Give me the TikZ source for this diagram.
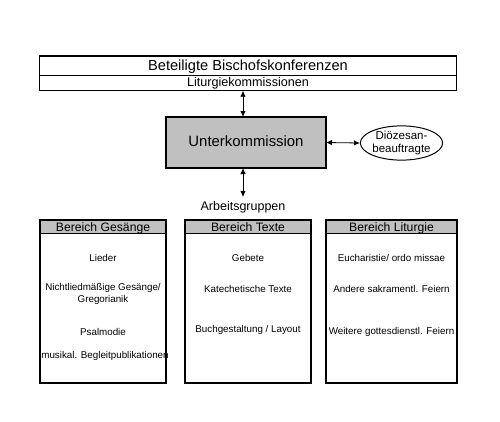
\documentclass[tikz,border=0pt]{standalone}
\usepackage{fontspec}
\setmainfont{Liberation Sans}
\usetikzlibrary{arrows.meta,shapes.geometric}
\definecolor{hdrgray}{HTML}{C0C0C0}
\tikzset{
  frame/.style={draw=black, line width=1.5pt},
  area/.style={inner sep=0pt, outer sep=0pt},
  arr/.style={{Latex[length=6pt,width=5.5pt]}-{Latex[length=6pt,width=5.5pt]}, line width=0.8pt},
  item/.style={inner sep=0pt, align=center, font=\fontsize{9.8}{11.5}\selectfont},
  hdr/.style={area, fill=hdrgray, font=\fontsize{12.2}{14}\selectfont, text height=10.8pt, text depth=0.8pt}
}
\begin{document}
\begin{tikzpicture}[x=1pt,y=-1pt]
\useasboundingbox[fill=white] (0,0) rectangle (500,421);
\coordinate (ax) at (243,0);
% top box
\node[area, minimum width=417.4pt, minimum height=19pt, text height=11.5pt, text depth=2pt, font=\fontsize{14.6}{16}\selectfont] (bk) at (248,65.5) {Beteiligte Bischofskonferenzen};
\node[area, minimum width=417.4pt, minimum height=15.7pt, text height=9.5pt, text depth=2.3pt, font=\fontsize{12.6}{14}\selectfont] (lk) at (248,82.85) {Liturgiekommissionen};
\draw[line width=0.8pt] (bk.south west) -- (bk.south east);
\draw[frame] (bk.north west) rectangle (lk.south east);
% Unterkommission
\node[area, frame, fill=hdrgray, minimum width=160pt, minimum height=51pt, text height=10.8pt, text depth=3pt, font=\fontsize{14.9}{17}\selectfont] (uk) at (246,142.5) {Unterkommission};
\node[ellipse, draw=black, line width=1pt, minimum width=81pt, minimum height=34pt, inner sep=0pt, align=center, font=\fontsize{11.5}{13.5}\selectfont] (dz) at (401.5,143) {Diözesan-\\beauftragte};
\node[inner sep=0pt, font=\fontsize{12.5}{14}\selectfont] (ag) at (243,207) {Arbeitsgruppen};
\draw[arr] (lk.south -| ax) -- (uk.north -| ax);
\draw[arr] (uk.east) -- (dz.west);
\draw[arr] (uk.south -| ax) -- ([yshift=4pt]ag.north);
% three boxes
\node[hdr, minimum width=126pt, minimum height=13.5pt] (h1) at (103,226.75) {Bereich Gesänge};
\node[area, minimum width=126pt, minimum height=149.5pt] (b1) at (103,308.25) {};
\node[hdr, minimum width=126pt, minimum height=13.5pt] (h2) at (248,226.75) {Bereich Texte};
\node[area, minimum width=126pt, minimum height=149.5pt] (b2) at (248,308.25) {};
\node[hdr, minimum width=131pt, minimum height=13.5pt] (h3) at (391.5,226.75) {Bereich Liturgie};
\node[area, minimum width=131pt, minimum height=149.5pt] (b3) at (391.5,308.25) {};
\foreach \n in {1,2,3}{
  \draw[line width=0.5pt] (h\n.south west) -- (h\n.south east);
  \draw[frame] (h\n.north west) rectangle (b\n.south east);
}
% items
\node[item] (g1) at (103,258) {Lieder};
\node[item] (g2) at (103,294) {Nichtliedmäßige Gesänge/\\Gregorianik};
\node[item] (g3) at (103,332) {Psalmodie};
\node[item] (g4) at (105,356) {musikal. Begleitpublikationen};
\node[item] (t1) at (248,258) {Gebete};
\node[item] (t2) at (248,289) {Katechetische Texte};
\node[item] (t3) at (248,330) {Buchgestaltung / Layout};
\node[item] (l1) at (391.5,258) {Eucharistie/ ordo missae};
\node[item] (l2) at (391.5,289) {Andere sakramentl. Feiern};
\node[item] (l3) at (391.5,332) {Weitere gottesdienstl. Feiern};
\end{tikzpicture}
\end{document}
